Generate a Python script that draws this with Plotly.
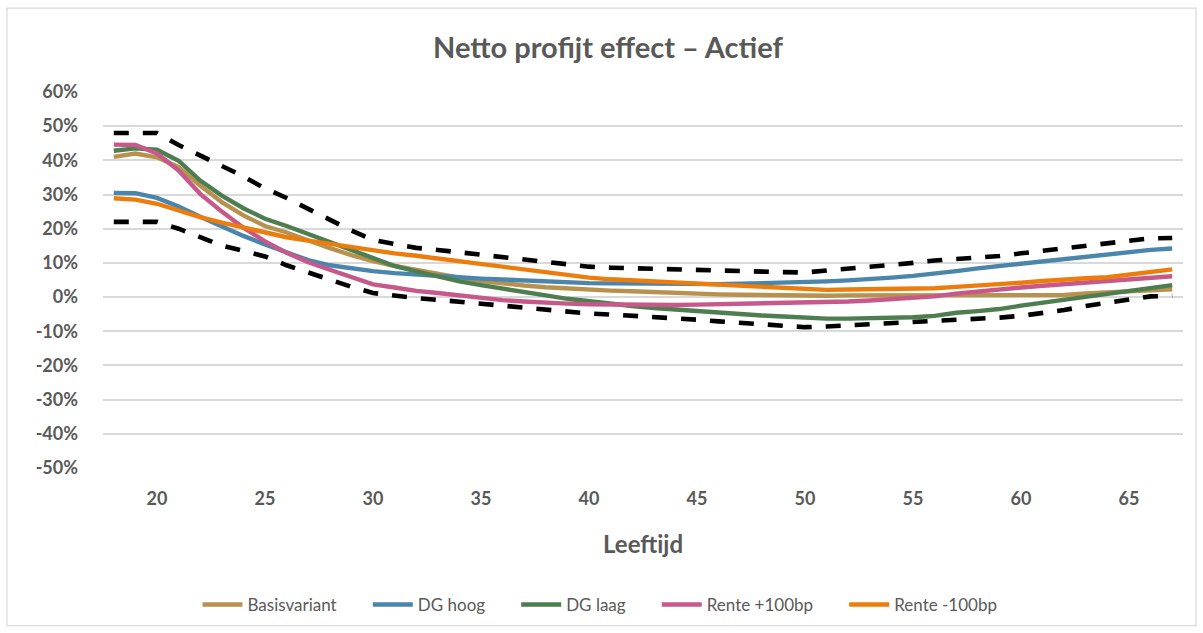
import plotly.graph_objects as go

# Ages on the horizontal axis
leeftijd = list(range(18, 68))
x_ticks = [20, 25, 30, 35, 40, 45, 50, 55, 60, 65]

# Vertical axis ticks (fractions) and their labels
y_ticks = [-0.5, -0.4, -0.3, -0.2, -0.1, 0.0, 0.1, 0.2, 0.3, 0.4, 0.5, 0.6]
y_tick_labels = ["-50%", "-40%", "-30%", "-20%", "-10%", "0%",
                 "10%", "20%", "30%", "40%", "50%", "60%"]

# Net profit effect per age, in percent
basisvariant = [41.0, 42.0, 40.9, 38.0, 32.6, 27.8, 23.9, 20.8, 18.9, 16.5,
                14.3, 12.3, 10.5, 9.1, 7.9, 6.7, 5.7, 4.7, 3.9, 3.4,
                2.9, 2.5, 2.2, 1.9, 1.7, 1.4, 1.1, 0.9, 0.8, 0.7,
                0.6, 0.5, 0.3, 0.4, 0.5, 0.5, 0.5, 0.5, 0.4, 0.4,
                0.5, 0.5, 0.4, 0.4, 0.6, 1.1, 1.5, 1.8, 2.0, 2.3]
dg_hoog = [30.5, 30.4, 29.0, 26.5, 23.5, 20.6, 17.9, 15.4, 13.0, 10.8,
           9.3, 8.3, 7.6, 7.0, 6.5, 6.0, 5.8, 5.4, 5.1, 4.9,
           4.6, 4.4, 4.1, 4.0, 3.9, 3.8, 3.8, 3.8, 3.8, 3.9,
           4.0, 4.1, 4.3, 4.6, 4.9, 5.2, 5.7, 6.2, 6.8, 7.6,
           8.4, 9.1, 9.9, 10.6, 11.3, 11.9, 12.6, 13.3, 13.8, 14.2]
dg_laag = [42.8, 43.5, 43.1, 39.9, 34.1, 29.7, 26.0, 22.9, 20.8, 18.5,
           16.3, 13.9, 11.5, 9.1, 7.5, 6.0, 4.6, 3.5, 2.4, 1.5,
           0.5, -0.5, -1.3, -2.0, -2.6, -3.2, -3.7, -4.2, -4.7, -5.1,
           -5.4, -5.7, -6.1, -6.3, -6.3, -6.2, -6.1, -5.9, -5.5, -4.6,
           -4.1, -3.5, -2.5, -1.6, -0.7, 0.0, 1.0, 2.0, 2.7, 3.5]
rente_plus = [44.6, 44.5, 42.0, 37.0, 30.2, 25.0, 20.3, 16.3, 13.0, 10.2,
              8.0, 5.9, 3.7, 2.8, 1.8, 1.2, 0.5, -0.3, -0.9, -1.3,
              -1.7, -1.9, -2.1, -2.2, -2.3, -2.3, -2.3, -2.2, -2.1, -2.0,
              -1.9, -1.8, -1.7, -1.5, -1.3, -1.0, -0.7, -0.3, 0.2, 1.0,
              1.7, 2.3, 2.8, 3.3, 3.8, 4.3, 4.8, 5.3, 5.7, 6.1]
rente_min = [28.9, 28.5, 27.3, 25.3, 23.4, 21.8, 20.3, 18.8, 17.5, 16.5,
             15.5, 14.5, 13.7, 12.8, 12.1, 11.3, 10.5, 9.4, 8.6, 7.9,
             7.2, 6.5, 5.7, 5.2, 4.9, 4.6, 4.3, 3.9, 3.6, 3.3,
             3.1, 2.9, 2.4, 2.1, 2.2, 2.3, 2.3, 2.4, 2.6, 3.0,
             3.3, 3.7, 4.2, 4.7, 5.2, 5.5, 5.8, 6.6, 7.2, 8.1]

# Band bounds (dashed)
bovengrens = [48.0, 48.0, 48.0, 44.5, 41.4, 38.2, 35.3, 31.8, 29.0, 25.8,
              22.6, 19.5, 16.7, 15.4, 14.4, 13.8, 13.1, 12.3, 11.7, 11.0,
              10.3, 9.6, 8.9, 8.6, 8.4, 8.2, 8.0, 7.9, 7.8, 7.6,
              7.4, 7.3, 7.2, 7.7, 8.2, 8.7, 9.3, 10.0, 10.7, 11.1,
              11.5, 12.0, 12.8, 13.5, 14.1, 14.9, 15.6, 16.4, 17.2, 17.3]
ondergrens = [22.0, 22.0, 22.0, 20.0, 17.6, 15.1, 13.5, 11.9, 9.3, 7.2,
              5.0, 3.0, 1.2, 0.4, -0.3, -0.8, -1.4, -1.8, -2.4, -2.9,
              -3.5, -4.2, -4.8, -5.1, -5.4, -5.8, -6.2, -6.6, -7.1, -7.6,
              -8.1, -8.4, -8.8, -8.6, -8.3, -7.9, -7.5, -7.2, -7.0, -6.9,
              -6.4, -6.0, -5.5, -4.8, -3.8, -2.6, -1.6, -0.6, 0.2, 0.4]

series = [
    ("Basisvariant", basisvariant, "#B8914E"),
    ("DG hoog", dg_hoog, "#4A85AC"),
    ("DG laag", dg_laag, "#4E7E50"),
    ("Rente +100bp", rente_plus, "#C6598A"),
    ("Rente -100bp", rente_min, "#EC7D0C"),
]

FONT = "Lato"
GREY = "#595959"
PAD = "\u00a0" * 6  # extra room after each legend entry

fig = go.Figure()

for name, values, color in series:
    fig.add_trace(go.Scatter(
        x=leeftijd, y=[v / 100 for v in values], name=name + PAD, mode="lines",
        line=dict(color=color, width=4.4),
    ))

for values in (bovengrens, ondergrens):
    fig.add_trace(go.Scatter(
        x=leeftijd, y=[v / 100 for v in values], mode="lines", showlegend=False,
        line=dict(color="#000000", width=4.6, dash="15px,14px"),
    ))

# plot area in pixels: x 103..1183, y 92..469
L, R, T, B = 103, 1183, 92, 469
W, H = R - L, B - T


def px(xp):
    return (xp - L) / W


def py(yp):
    return (B - yp) / H


fig.update_layout(
    width=1203, height=633,
    margin=dict(l=L, r=1203 - R, t=T, b=633 - B),
    paper_bgcolor="white", plot_bgcolor="white",
    font=dict(family=FONT, color=GREY),
    showlegend=True,
    legend=dict(
        orientation="h", xref="paper", yref="paper",
        x=px(613), xanchor="center", y=py(605), yanchor="middle",
        font=dict(size=17, color=GREY, family=FONT),
        itemwidth=40,
    ),
    xaxis=dict(
        range=[17.5, 67.5], tickmode="array", tickvals=x_ticks,
        ticktext=["<b>%d</b>" % t for t in x_ticks],
        showgrid=False, zeroline=False, showline=False, ticks="",
        tickfont=dict(size=18, color=GREY, family=FONT),
        ticklabelstandoff=18,
    ),
    yaxis=dict(
        range=[-0.5, 0.6], tickmode="array", tickvals=y_ticks,
        ticktext=["<b>%s</b>" % t for t in y_tick_labels],
        showgrid=True, gridcolor="#D9D9D9", gridwidth=1.5,
        zeroline=False, showline=False, ticks="",
        tickfont=dict(size=18, color=GREY, family=FONT),
        ticklabelstandoff=24,
    ),
    annotations=[
        dict(text="<b>Netto profijt effect – Actief</b>", xref="paper", yref="paper",
             x=px(608), y=py(46), xanchor="center", yanchor="middle",
             showarrow=False, font=dict(size=29, color=GREY, family=FONT)),
        dict(text="<b>Leeftijd</b>", xref="paper", yref="paper",
             x=px(643), y=py(545), xanchor="center", yanchor="middle",
             showarrow=False, font=dict(size=24, color=GREY, family=FONT)),
    ],
    shapes=[
        dict(type="rect", xref="paper", yref="paper",
             x0=px(7), x1=px(1196), y0=py(627), y1=py(8),
             line=dict(color="#D9D9D9", width=1.2), fillcolor="rgba(0,0,0,0)",
             layer="below"),
    ],
)

fig.write_html("out.html")
